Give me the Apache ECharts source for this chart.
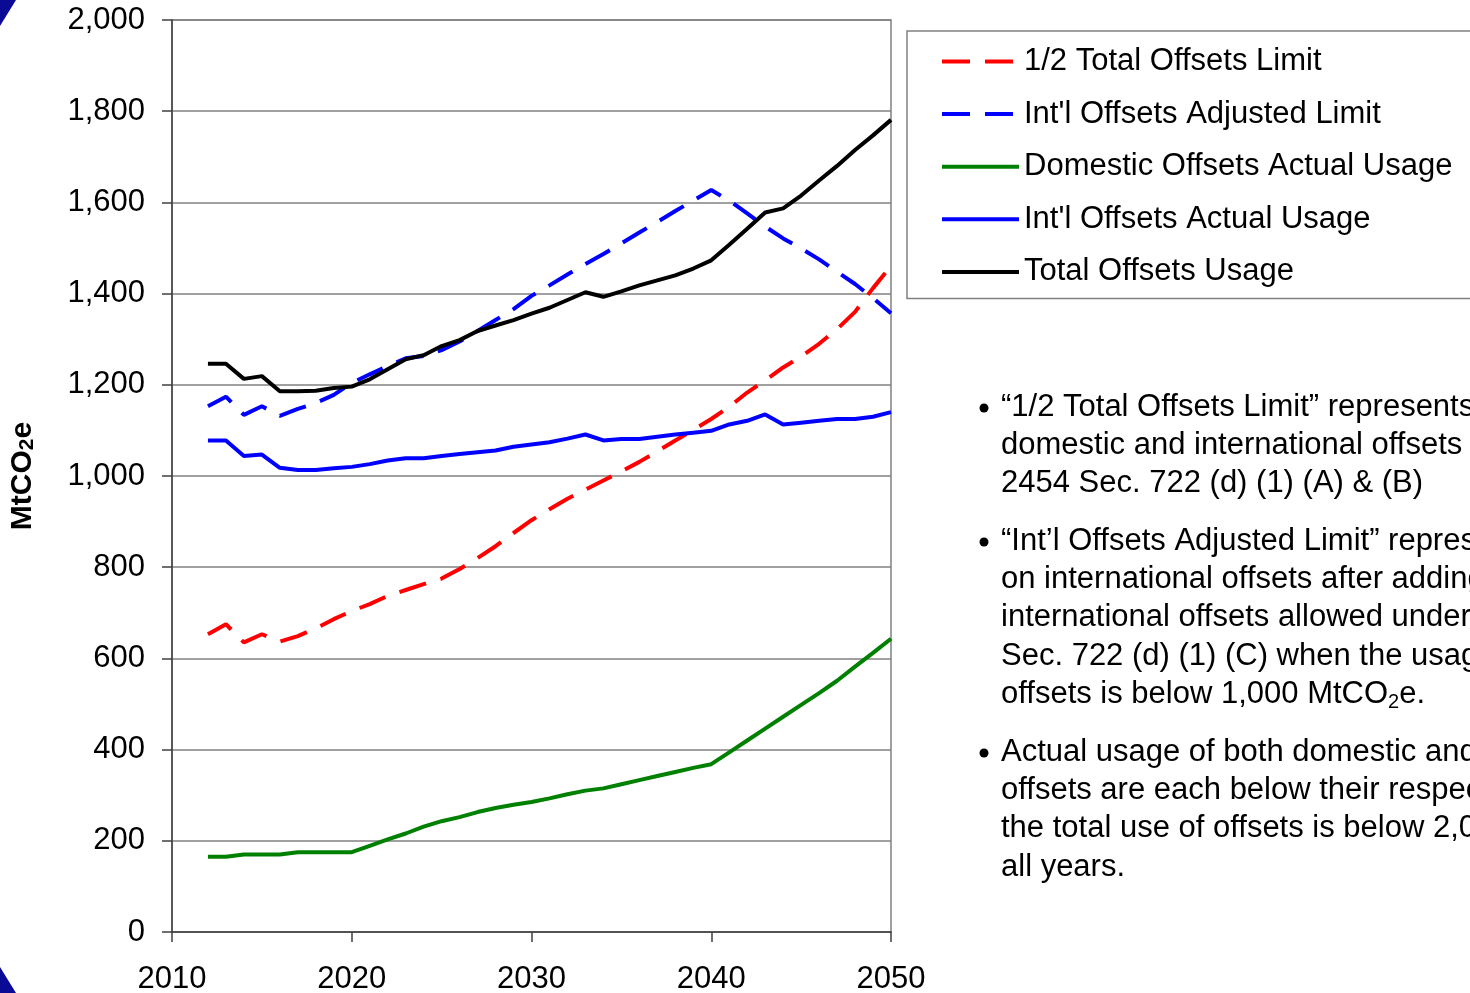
<!DOCTYPE html>
<html>
<head>
<meta charset="utf-8">
<title>Offsets usage</title>
<script src="https://cdn.jsdelivr.net/npm/echarts@6/dist/echarts.min.js"></script>
<style>
  html, body { margin: 0; padding: 0; background: #fff; }
  #chart { width: 1470px; height: 993px; }
</style>
</head>
<body>
<div id="chart"></div>
<script>
// years on the x axis
const years = [2012, 2013, 2014, 2015, 2016, 2017, 2018, 2019, 2020, 2021,
  2022, 2023, 2024, 2025, 2026, 2027, 2028, 2029, 2030, 2031,
  2032, 2033, 2034, 2035, 2036, 2037, 2038, 2039, 2040, 2041,
  2042, 2043, 2044, 2045, 2046, 2047, 2048, 2049, 2050];

// series values (MtCO2e)
const halfTotalLimit = [653, 675, 635, 653, 637, 649, 666, 686, 704, 719,
  737, 750, 763, 775, 796, 820, 846, 875, 903, 927,
  950, 970, 990, 1010, 1031, 1054, 1078, 1101, 1125, 1152,
  1183, 1210, 1238, 1262, 1290, 1322, 1360, 1412, 1461];
const intlAdjustedLimit = [1153, 1174, 1134, 1153, 1132, 1147, 1160, 1178, 1204, 1223,
  1241, 1258, 1263, 1276, 1295, 1318, 1342, 1366, 1395, 1418,
  1442, 1465, 1487, 1510, 1534, 1557, 1581, 1604, 1627, 1604,
  1576, 1547, 1521, 1499, 1475, 1448, 1421, 1390, 1357];
const domesticActual = [165, 165, 170, 170, 170, 175, 175, 175, 175, 189,
  203, 216, 231, 243, 252, 263, 272, 279, 285, 293,
  302, 310, 315, 324, 333, 342, 351, 360, 368, 394,
  420, 446, 472, 498, 524, 551, 582, 612, 643];
const intlActual = [1078, 1078, 1044, 1047, 1018, 1013, 1013, 1017, 1020, 1026,
  1034, 1039, 1039, 1044, 1048, 1052, 1056, 1064, 1069, 1074,
  1082, 1091, 1078, 1081, 1081, 1086, 1091, 1095, 1099, 1113,
  1121, 1135, 1113, 1117, 1121, 1125, 1125, 1130, 1140];
const totalUsage = [1246, 1246, 1213, 1219, 1186, 1186, 1187, 1193, 1196, 1212,
  1234, 1256, 1265, 1285, 1298, 1318, 1330, 1342, 1356, 1369,
  1386, 1403, 1393, 1405, 1418, 1429, 1440, 1455, 1473, 1507,
  1542, 1578, 1587, 1615, 1648, 1680, 1715, 1747, 1781];

// notes on the right
const notes = [
  ['\u201c1/2 Total Offsets Limit\u201d represents the limit on', 'domestic and international offsets under H.R.', '2454 Sec. 722 (d) (1) (A) & (B)'],
  ['\u201cInt\u2019l Offsets Adjusted Limit\u201d represents the limit', 'on international offsets after adding the', 'international offsets allowed under H.R. 2454', 'Sec. 722 (d) (1) (C) when the usage of domestic', 'offsets is below 1,000 MtCO{sub|2}e.'],
  ['Actual usage of both domestic and international', 'offsets are each below their respective limits, and', 'the total use of offsets is below 2,000 MtCO2e in', 'all years.']
];

const FONT = '"Liberation Sans", Arial, sans-serif';
const DASH = [28, 15];
const chart = echarts.init(document.getElementById('chart'));

function pairs(vals) {
  return years.map((y, i) => [y, vals[i]]);
}

function lineSeries(name, vals, color, dashed) {
  return {
    name: name,
    type: 'line',
    data: pairs(vals),
    symbol: 'none',
    animation: false,
    lineStyle: { color: color, width: 4, type: dashed ? DASH : 'solid', cap: 'butt' },
    itemStyle: { color: color },
    z: dashed ? 3 : 4
  };
}

function legendItem(name, color, dashed) {
  return {
    name: name,
    itemStyle: { opacity: 0 },
    lineStyle: { color: color, width: 4, type: dashed ? DASH : 'solid', cap: 'butt' }
  };
}

// text graphics for the notes
const graphics = [];
const lineH = 38.4;
const paraTops = [407, 541, 752];
notes.forEach((para, p) => {
  graphics.push({
    type: 'circle',
    shape: { cx: 984, cy: paraTops[p] + 1, r: 4.5 },
    style: { fill: '#000' }
  });
  para.forEach((ln, k) => {
    graphics.push({
      type: 'text',
      x: 1001,
      y: paraTops[p] + k * lineH,
      style: {
        text: ln,
        font: '31px ' + FONT,
        fill: '#000',
        verticalAlign: 'middle',
        rich: { sub: { fontSize: 20, fontFamily: FONT, padding: [16, 0, 0, 0], fill: '#000' } }
      }
    });
  });
});
// blue slide corners
graphics.push({ type: 'polygon', shape: { points: [[0, 0], [16, 0], [0, 26]] }, style: { fill: '#0a0a96' } });
graphics.push({ type: 'polygon', shape: { points: [[0, 967], [16, 993], [0, 993]] }, style: { fill: '#0a0a96' } });

const option = {
  backgroundColor: '#fff',
  animation: false,
  grid: {
    left: 172, right: 579, top: 20, bottom: 61,
    outerBoundsMode: 'none',
    containLabel: false,
    show: true, borderColor: '#808080', borderWidth: 1.5
  },
  legend: {
    left: 907, top: 31,
    orient: 'vertical',
    padding: [15, 250, 11, 33],
    borderColor: '#808080', borderWidth: 1.5,
    backgroundColor: '#fff',
    itemWidth: 77, itemHeight: 14, itemGap: 21.6,
    textStyle: { fontSize: 31, fontFamily: FONT, color: '#000', lineHeight: 31 },
    data: [
      legendItem('1/2 Total Offsets Limit', '#ff0000', true),
      legendItem("Int'l Offsets Adjusted Limit", '#0000ff', true),
      legendItem('Domestic Offsets Actual Usage', '#008000', false),
      legendItem("Int'l Offsets Actual Usage", '#0000ff', false),
      legendItem('Total Offsets Usage', '#000000', false)
    ]
  },
  xAxis: {
    type: 'value',
    min: 2010, max: 2050, interval: 10,
    axisLine: { show: true, onZero: false, lineStyle: { color: '#404040', width: 1.5 } },
    axisTick: { show: true, length: 10, lineStyle: { color: '#404040', width: 1.5 } },
    splitLine: { show: false },
    axisLabel: { formatter: v => String(v), fontSize: 31, fontFamily: FONT, color: '#000', margin: 32 }
  },
  yAxis: {
    type: 'value',
    min: 0, max: 2000, interval: 200,
    name: '{a|MtCO}{b|2}{a|e}',
    nameLocation: 'middle',
    nameGap: 134,
    nameTextStyle: {
      rich: {
        a: { fontSize: 30, fontWeight: 'bold', fontFamily: FONT, color: '#000' },
        b: { fontSize: 21, fontWeight: 'bold', fontFamily: FONT, color: '#000', padding: [8, 0, 0, 0] }
      }
    },
    axisLine: { show: true, lineStyle: { color: '#404040', width: 1.5 } },
    axisTick: { show: true, length: 10, lineStyle: { color: '#404040', width: 1.5 } },
    splitLine: { show: true, lineStyle: { color: '#808080', width: 1.5 } },
    axisLabel: { fontSize: 31, fontFamily: FONT, color: '#000', margin: 27 }
  },
  series: [
    lineSeries('1/2 Total Offsets Limit', halfTotalLimit, '#ff0000', true),
    lineSeries("Int'l Offsets Adjusted Limit", intlAdjustedLimit, '#0000ff', true),
    lineSeries('Domestic Offsets Actual Usage', domesticActual, '#008000', false),
    lineSeries("Int'l Offsets Actual Usage", intlActual, '#0000ff', false),
    lineSeries('Total Offsets Usage', totalUsage, '#000000', false)
  ],
  graphic: graphics
};

chart.setOption(option);
</script>
</body>
</html>
